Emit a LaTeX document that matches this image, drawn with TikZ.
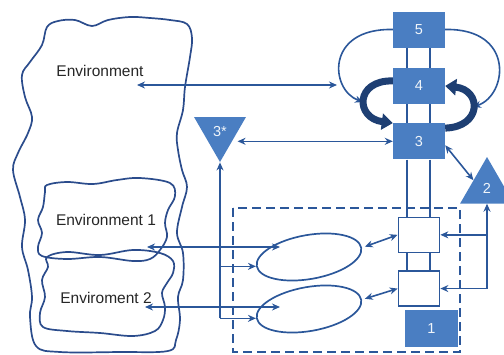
\documentclass[tikz,border=0pt]{standalone}
\usepackage{fontspec}
\setmainfont{Liberation Sans}
\usetikzlibrary{positioning, shapes, arrows.meta, calc}
\definecolor{boxblue}{RGB}{74,126,194}
\definecolor{lineblue}{RGB}{43,87,154}
\definecolor{darkblue}{RGB}{30,63,115}
\definecolor{cloudblue}{RGB}{43,76,140}

\tikzset{
  numbox/.style={fill=boxblue, text=white!92!boxblue, minimum width=52pt, minimum height=36pt, inner sep=0pt, font=\fontsize{14.5}{16}\selectfont},
  whitebox/.style={draw=lineblue, fill=white, line width=1.7pt, minimum width=41pt, minimum height=35pt, inner sep=0pt},
  tribox/.style={regular polygon, regular polygon sides=3, fill=boxblue, inner sep=0pt, minimum size=62pt, text=white!92!boxblue, font=\fontsize{14.5}{16}\selectfont},
  ringshape/.style={ellipse, draw=lineblue, line width=1.7pt, minimum width=106pt, minimum height=44pt, rotate=10},
  envtext/.style={text=black!85, font=\fontsize{15.5}{18}\selectfont},
  cloud/.style={draw=cloudblue, line width=1.7pt},
  rail/.style={lineblue, line width=1.9pt},
  arr/.style={lineblue, line width=1.6pt, -{Stealth[length=8pt,width=7pt]}},
  dblarr/.style={lineblue, line width=1.6pt, {Stealth[length=8pt,width=7pt]}-{Stealth[length=8pt,width=7pt]}},
  bigarr/.style={darkblue, line width=7pt, -{Triangle[length=11pt,width=16pt]}}
}

\begin{document}
\begin{tikzpicture}[x=1pt, y=-1pt]
\useasboundingbox (0,0) rectangle (504,354);

% environments
\draw[cloud] plot[smooth cycle, tension=0.6] coordinates {(47,27) (58,21) (75,20) (92,26) (108,20) (130,17) (150,18) (170,20) (187,24) (192,38) (190,57) (185,87) (183,110) (177,133) (178,150) (182,170) (187,187) (182,207) (177,233) (183,253) (183,280) (178,297) (180,320) (176,340) (168,351) (120,352) (60,352) (36,346) (30,317) (32,297) (28,270) (22,247) (25,220) (20,197) (13,170) (18,153) (28,133) (32,117) (25,97) (22,75) (30,62) (42,45)};
\draw[cloud] plot[smooth cycle, tension=0.6] coordinates {(47,185) (67,182) (93,184) (117,180) (140,178) (170,183) (175,196) (168,210) (165,223) (167,237) (160,250) (150,259) (133,261) (100,257) (67,259) (42,256) (38,247) (42,233) (38,220) (43,207) (45,192)};
\draw[cloud] plot[smooth cycle, tension=0.6] coordinates {(47,257) (67,252) (100,255) (133,250) (160,253) (173,261) (173,273) (167,283) (162,293) (165,307) (163,320) (155,331) (133,336) (100,333) (67,331) (43,327) (40,313) (45,297) (42,280) (48,267)};

\node[envtext] (env) at (100,71) {Environment};
\node[envtext] (env1) at (106,220) {Environment 1};
\node[envtext] (env2) at (106,298) {Enviroment 2};

% dashed system boundary
\draw[lineblue, line width=2pt, dash pattern=on 9pt off 5pt] (233,208) rectangle (460,352);

% column of boxes
\node[numbox] (b5) at (419,29.5) {5};
\node[numbox, below=20pt of b5] (b4) {4};
\node[numbox, below=19pt of b4] (b3) {3};
\node[whitebox, below=57pt of b3] (ba) {};
\node[whitebox, below=17pt of ba] (bb) {};
\node[numbox, minimum width=53pt, minimum height=37pt] (b1) at (431.5,328.5) {1};

\foreach \a/\b in {b5/b4, b4/b3, b3/ba, ba/bb}
  \foreach \dx in {-12pt, 11pt}
    \draw[rail] ([xshift=\dx]\a.south) -- ([xshift=\dx]\b.north);

\node[tribox] (t2) at (487,188) {2};
\node[tribox, shape border rotate=180, minimum size=60pt] (t3) at (220,132) {3*};

\node[ringshape] (e1) at (309,257) {};
\node[ringshape] (e2) at (309,309) {};

% links to the environments
\coordinate (envL) at (137,85);
\coordinate (envR) at (337,85);
\coordinate (env1L) at (147,247);
\coordinate (env1R) at (280,247);
\coordinate (env2L) at (145,307);
\coordinate (env2R) at (280,307);
\draw[dblarr] (envL) -- (envR);
\draw[dblarr] (env1L) -- (env1R);
\draw[dblarr] (env2L) -- (env2R);

\draw[dblarr] (b3.west) -- (t3.east |- b3.west);
\draw[dblarr] ([yshift=-4pt]b3.east) -- (t2.side 1);

\draw[arr] (e2.west -| t3.south) -- (t3.south);
\draw[arr] (e1.west -| t3.south) -- (e1.west);
\draw[arr] (e2.west -| t3.south) -- (e2.west);

\draw[arr] (t2.south |- bb.east) -- (t2.south);
\draw[arr] (t2.south |- ba.east) -- (ba.east);
\draw[arr] (t2.south |- bb.east) -- (bb.east);

\draw[dblarr, shorten <=3pt] (e1.east) -- (ba.west);
\draw[dblarr, shorten <=3pt] (e2.east) -- (bb.west);

% loops round 5, 4 and 3
\draw[arr] (b5.west) .. controls (325,28) and (330,90) .. (363,102);
\draw[arr] (b5.east) .. controls (515,28) and (508,95) .. (473,107);
\draw[bigarr] ([yshift=5pt]b4.west) .. controls (355,80) and (355,118) .. (b3.north west);
\draw[bigarr] ([yshift=-5pt]b3.north east) .. controls (482,127) and (482,90) .. (b4.east);
\end{tikzpicture}
\end{document}
